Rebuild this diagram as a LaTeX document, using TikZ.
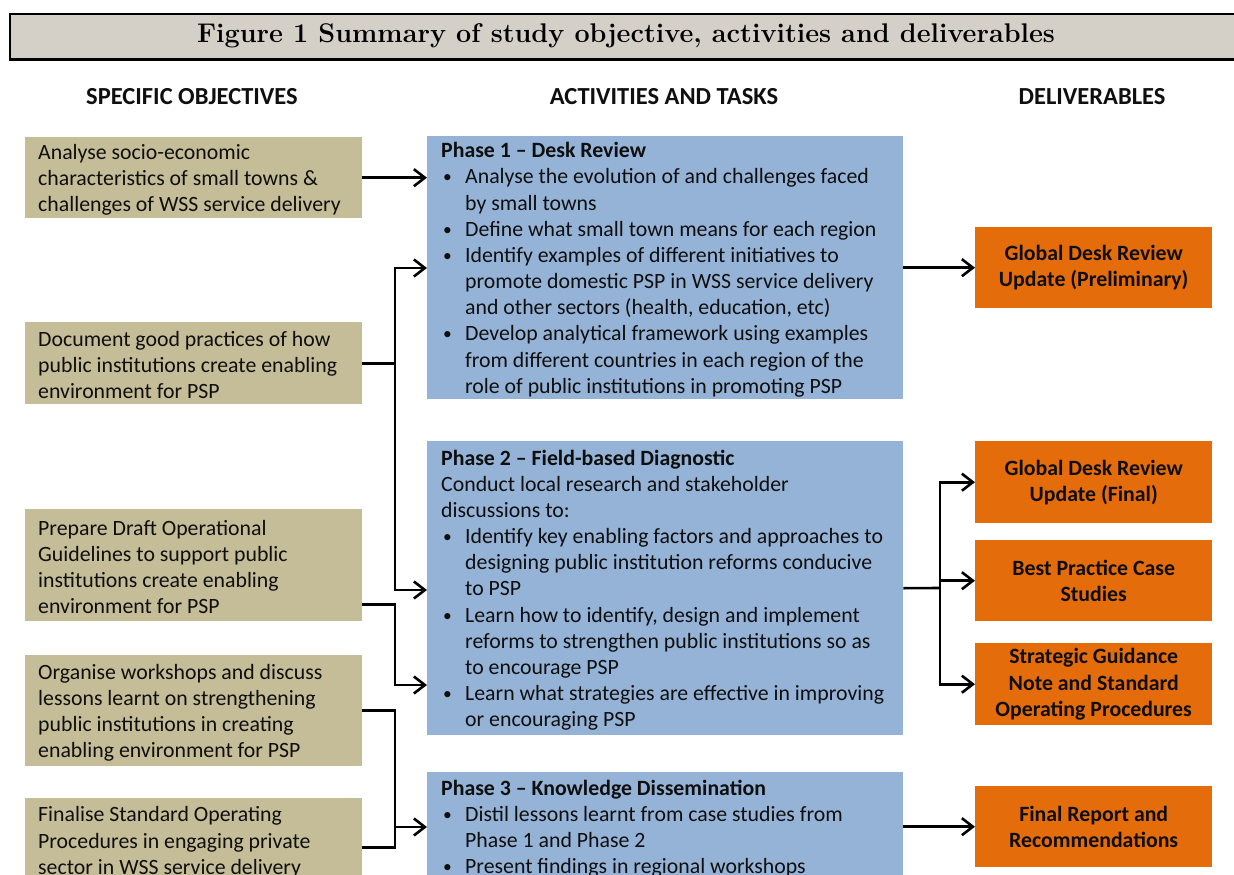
\documentclass[tikz,border=0pt]{standalone}
\usepackage{fontspec}
\setsansfont{Carlito}
\usetikzlibrary{arrows.meta,calc}
\definecolor{tanc}{RGB}{196,189,151}
\definecolor{bluec}{RGB}{149,179,215}
\definecolor{orangec}{RGB}{228,108,10}
\definecolor{titlec}{RGB}{212,208,200}
\definecolor{ink}{RGB}{15,15,15}
\newcommand{\bl}{\makebox[24pt][l]{\hspace{2pt}\raisebox{1pt}{\scalebox{0.8}{\textbullet}}}}
\newcommand{\ind}{\hspace*{24pt}}
\begin{document}
\begin{tikzpicture}[x=1pt,y=-1pt,
  txt/.style={font=\sffamily\fontsize{21.8}{26.15}\selectfont, text=ink, inner sep=0pt, align=left, anchor=west},
  head/.style={font=\sffamily\bfseries\fontsize{24.5}{28}\selectfont, text=ink, inner sep=0pt},
  obox/.style={fill=tanc, draw=none, minimum width=337pt, anchor=north west, inner sep=0pt},
  pbox/.style={fill=bluec, draw=none, minimum width=476pt, anchor=north west, inner sep=0pt},
  dbox/.style={fill=orangec, draw=none, minimum width=237pt, anchor=north west, inner sep=0pt,
     font=\sffamily\bfseries\fontsize{21.8}{26.15}\selectfont, text=ink, align=center},
  conn/.style={line width=2.6pt, draw=black},
  arr/.style={conn, -{Straight Barb[length=11pt,width=17pt,line width=2.6pt]}}
]
\useasboundingbox (0,0) rectangle (1234,875);
\clip (0,0) rectangle (1234,875);

% title bar
\node[fill=titlec, draw=black, line width=2pt, minimum width=1240pt, minimum height=45pt,
      anchor=north west, inner sep=0pt] (title) at (9,13) {};
\node[font=\rmfamily\bfseries\fontsize{27}{30}\selectfont, inner sep=0pt] (titlet) at (626,36)
      {Figure 1 Summary of study objective, activities and deliverables};
\draw[line width=3pt] (title.south west) -- (title.south east);

% headers
\node[head] (h1) at (192,97) {SPECIFIC OBJECTIVES};
\node[head] (h2) at (664,97) {ACTIVITIES AND TASKS};
\node[head] (h3) at (1092,97) {DELIVERABLES};

% objectives
\node[obox, minimum height=81pt] (o1) at (25,137) {};
\node[obox, minimum height=82pt] (o2) at (25,322) {};
\node[obox, minimum height=112pt] (o3) at (25,509) {};
\node[obox, minimum height=111pt] (o4) at (25,655) {};
\node[obox, minimum height=84pt] (o5) at (25,798) {};
\node[txt] (o1t) at ($(o1.west)+(13,2)$) {Analyse socio-economic\\characteristics of small towns \&\\challenges of WSS service delivery};
\node[txt] (o2t) at ($(o2.west)+(13,2)$) {Document good practices of how\\public institutions create enabling\\environment for PSP};
\node[txt] (o3t) at ($(o3.west)+(13,2)$) {Prepare Draft Operational\\Guidelines to support public\\institutions create enabling\\environment for PSP};
\node[txt] (o4t) at ($(o4.west)+(13,2)$) {Organise workshops and discuss\\lessons learnt on strengthening\\public institutions in creating\\enabling environment for PSP};
\node[txt] (o5t) at ($(o5.west)+(13,2)$) {Finalise Standard Operating\\Procedures in engaging private\\sector in WSS service delivery};

% phases
\node[pbox, minimum height=263pt] (p1) at (427,136) {};
\node[pbox, minimum height=294pt] (p2) at (427,441) {};
\node[pbox, minimum height=109pt] (p3) at (427,772) {};
\node[txt] (p1t) at ($(p1.west)+(14,2)$) {\textbf{Phase 1 -- Desk Review}\\
\bl Analyse the evolution of and challenges faced\\
\ind by small towns\\
\bl Define what small town means for each region\\
\bl Identify examples of different initiatives to\\
\ind promote domestic PSP in WSS service delivery\\
\ind and other sectors (health, education, etc)\\
\bl Develop analytical framework using examples\\
\ind from different countries in each region of the\\
\ind role of public institutions in promoting PSP};
\node[txt] (p2t) at ($(p2.west)+(14,2)$) {\textbf{Phase 2 -- Field-based Diagnostic}\\
Conduct local research and stakeholder\\
discussions to:\\
\bl Identify key enabling factors and approaches to\\
\ind designing public institution reforms conducive\\
\ind to PSP\\
\bl Learn how to identify, design and implement\\
\ind reforms to strengthen public institutions so as\\
\ind to encourage PSP\\
\bl Learn what strategies are effective in improving\\
\ind or encouraging PSP};
\node[txt] (p3t) at ($(p3.west)+(14,2)$) {\textbf{Phase 3 -- Knowledge Dissemination}\\
\bl Distil lessons learnt from case studies from\\
\ind Phase 1 and Phase 2\\
\bl Present findings in regional workshops};

% deliverables
\node[dbox, minimum height=81pt] (d1) at (975,227) {Global Desk Review\\Update (Preliminary)};
\node[dbox, minimum height=82pt] (d2) at (975,441) {Global Desk Review\\Update (Final)};
\node[dbox, minimum height=81pt] (d3) at (975,540) {Best Practice Case\\Studies};
\node[dbox, minimum height=82pt] (d4) at (975,643) {Strategic Guidance\\Note and Standard\\Operating Procedures};
\node[dbox, minimum height=81pt] (d5) at (975,786) {Final Report and\\Recommendations};

% junction coordinates
\coordinate (ja) at (395,268);
\coordinate (jb) at (395,590);
\coordinate (jc) at (395,685);
\coordinate (jd) at (395,827);
\coordinate (jr) at (940,588);
\coordinate (o3r) at ($(o3.south east)+(0,-17)$);
\coordinate (o5r) at ($(o5.east)+(0,7)$);

% left connectors
\draw[arr] (o1.east) -- (p1.west |- o1.east);
\draw[arr] (o2.east) -| (ja) -- (p1.west |- ja);
\draw[arr] (o2.east) -| (jb) -- (p2.west |- jb);
\draw[arr] (o3r) -| (jc) -- (p2.west |- jc);
\draw[arr] (o4.east) -| (jd) -- (p3.west |- jd);
\draw[conn] (o5r) -| (jd);

% right connectors
\draw[arr] (p1.east) -- (d1.west);
\draw[conn] (p2.east) -- (jr);
\draw[arr] (jr) |- (d2.west);
\draw[arr] (jr) |- (d3.west);
\draw[arr] (jr) |- (d4.west);
\draw[arr] (p3.east) -- (d5.west);
\end{tikzpicture}
\end{document}
